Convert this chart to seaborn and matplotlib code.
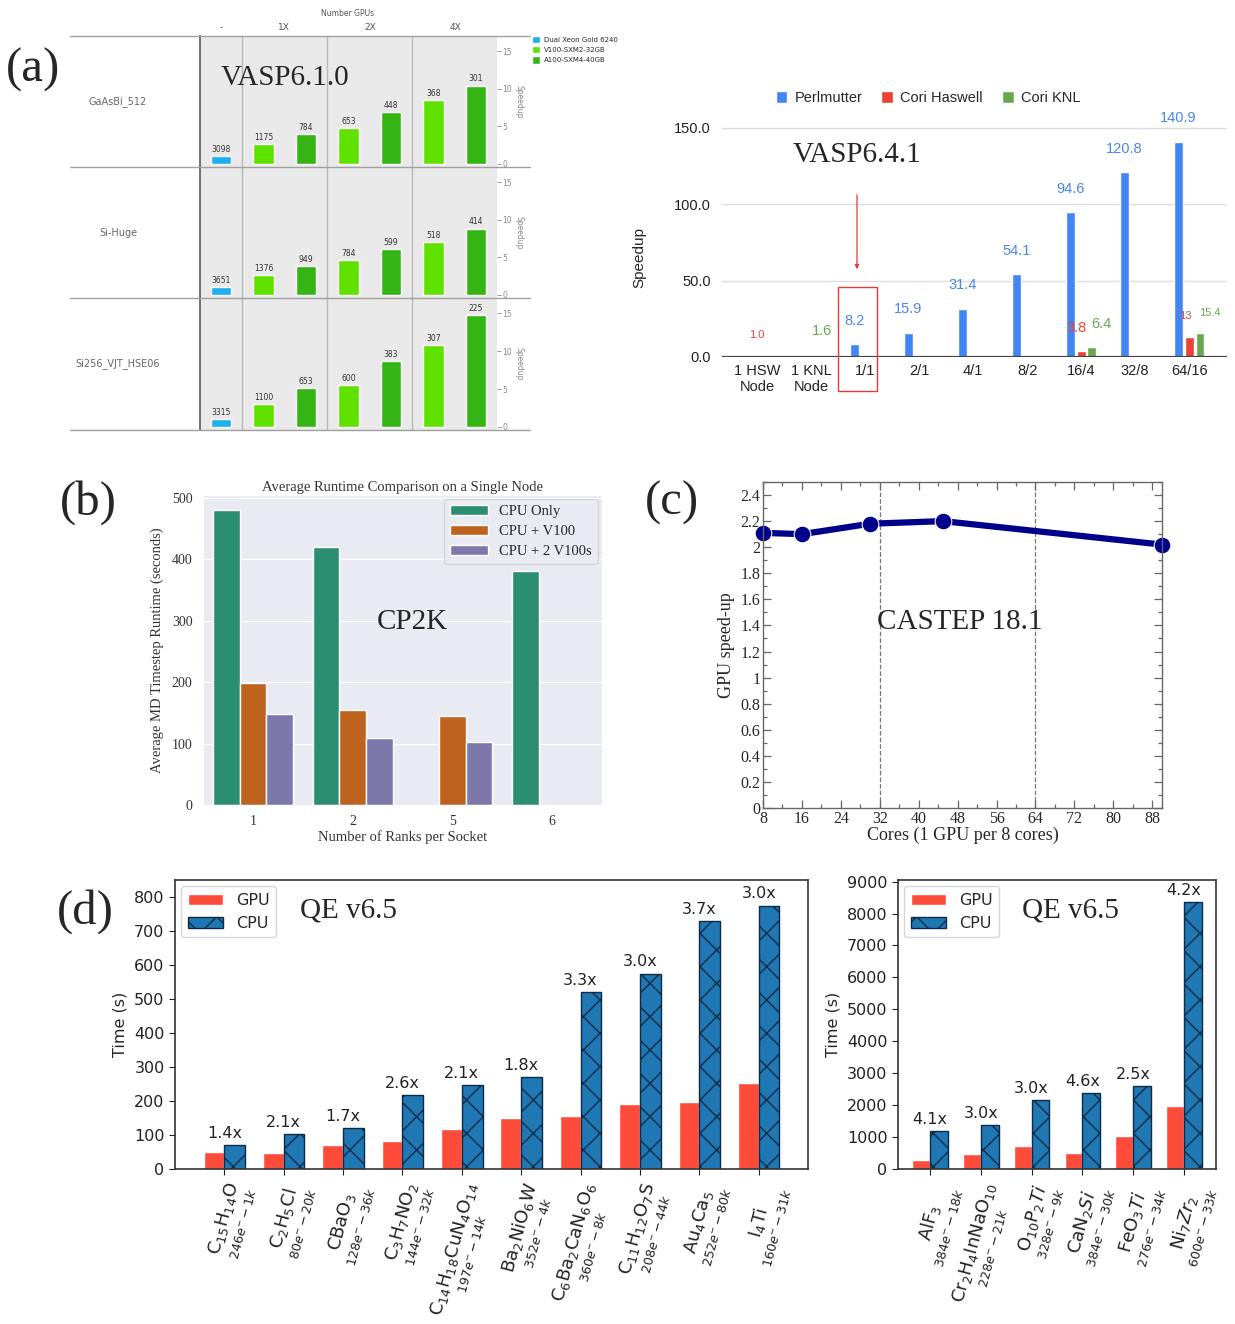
import numpy as np
import pandas as pd
import matplotlib
matplotlib.use("Agg")
import matplotlib.pyplot as plt
from matplotlib.lines import Line2D
from matplotlib.patches import Patch, Rectangle
from matplotlib.ticker import MultipleLocator, FuncFormatter
import seaborn as sns

nan = np.nan

# (a) left: VASP 6.1.0, time labels + speedup bars
vasp61_benchmarks = ["GaAsBi_512", "Si-Huge", "Si256_VJT_HSE06"]
vasp61_configs = ["CPU", "1X V100", "1X A100", "2X V100", "2X A100", "4X V100", "4X A100"]
vasp61_hardware = ["Dual Xeon Gold 6240", "V100-SXM2-32GB", "A100-SXM4-40GB",
                   "V100-SXM2-32GB", "A100-SXM4-40GB", "V100-SXM2-32GB", "A100-SXM4-40GB"]
vasp61_gpu_cols = ["-", "1X", "2X", "4X"]
gaasbi_time = [3098, 1175, 784, 653, 448, 368, 301]
gaasbi_speedup = [1.0, 2.65, 4.0, 4.75, 6.9, 8.45, 10.4]
sihuge_time = [3651, 1376, 949, 784, 599, 518, 414]
sihuge_speedup = [1.0, 2.65, 3.85, 4.65, 6.1, 7.05, 8.8]
si256_time = [3315, 1100, 653, 600, 383, 307, 225]
si256_speedup = [1.0, 3.0, 5.1, 5.5, 8.65, 10.8, 14.7]

# (a) right: VASP 6.4.1
vasp64_nodes = ["1 HSW\nNode", "1 KNL\nNode", "1/1", "2/1", "4/1", "8/2", "16/4", "32/8", "64/16"]
vasp64_systems = ["Perlmutter", "Cori Haswell", "Cori KNL"]
perlmutter = [nan, nan, 8.2, 15.9, 31.4, 54.1, 94.6, 120.8, 140.9]
cori_haswell = [1.0, nan, nan, nan, nan, nan, 3.8, nan, 13]
cori_knl = [nan, 1.6, nan, nan, nan, nan, 6.4, nan, 15.4]
perlmutter_labels = ["", "", "8.2", "15.9", "31.4", "54.1", "94.6", "120.8", "140.9"]
haswell_labels = ["1.0", "", "", "", "", "", "3.8", "", "13"]
knl_labels = ["", "1.6", "", "", "", "", "6.4", "", "15.4"]

# (b) CP2K
ranks = ["1", "2", "5", "6"]
cp2k_configs = ["CPU Only", "CPU + V100", "CPU + 2 V100s"]
cpu_only = [481, 421, nan, 381]
cpu_v100 = [198, 154, 145, nan]
cpu_2v100 = [148, 109, 102, nan]

# (c) CASTEP
cores = [8, 16, 30, 45, 90]
castep_speedup = [2.11, 2.10, 2.18, 2.20, 2.02]

# (d) QE v6.5
qe_small_formula = [r"$\mathrm{C_{15}H_{14}O}$", r"$\mathrm{C_2H_5Cl}$", r"$\mathrm{CBaO_3}$",
                    r"$\mathrm{C_3H_7NO_2}$", r"$\mathrm{C_{14}H_{18}CuN_4O_{14}}$",
                    r"$\mathrm{Ba_2NiO_6W}$", r"$\mathrm{C_6Ba_2CaN_6O_6}$",
                    r"$\mathrm{C_{11}H_{12}O_7S}$", r"$\mathrm{Au_4Ca_5}$", r"$\mathrm{I_4Ti}$"]
qe_small_info = ["246e^{-}-1k", "80e^{-}-20k", "128e^{-}-36k", "144e^{-}-32k", "197e^{-}-14k",
                 "352e^{-}-4k", "360e^{-}-8k", "208e^{-}-44k", "252e^{-}-80k", "160e^{-}-31k"]
qe_small_gpu = [51, 48, 70, 82, 117, 149, 157, 191, 198, 254]
qe_small_cpu = [70, 103, 121, 217, 246, 271, 520, 575, 729, 775]
qe_small_ratio = ["1.4x", "2.1x", "1.7x", "2.6x", "2.1x", "1.8x", "3.3x", "3.0x", "3.7x", "3.0x"]

qe_large_formula = [r"$\mathrm{AlF_3}$", r"$\mathrm{Cr_2H_4InNaO_{10}}$", r"$\mathrm{O_{10}P_2}Ti$",
                    r"$\mathrm{CaN_2}Si$", r"$\mathrm{FeO_3}Ti$", r"$\mathrm{Ni_7}Zr_2$"]
qe_large_info = ["384e^{-}-18k", "228e^{-}-21k", "328e^{-}-9k", "384e^{-}-30k",
                 "276e^{-}-34k", "600e^{-}-33k"]
qe_large_gpu = [290, 465, 715, 515, 1035, 1975]
qe_large_cpu = [1175, 1380, 2150, 2380, 2600, 8350]
qe_large_ratio = ["4.1x", "3.0x", "3.0x", "4.6x", "2.5x", "4.2x"]

sns.set_style("ticks")
plt.rcParams["font.family"] = ["DejaVu Sans"]
SERIF = "Liberation Serif"
ARIAL = "Liberation Sans"

W, H = 1235, 1324
fig = plt.figure(figsize=(W / 100, H / 100), dpi=100)


def box(x0, y0, x1, y1):
    return [x0 / W, 1 - y1 / H, (x1 - x0) / W, (y1 - y0) / H]


def ftext(x, y, s, **kw):
    kw.setdefault("ha", "center")
    kw.setdefault("va", "center")
    fig.text(x / W, 1 - y / H, s, **kw)


# ---------------- (a) left ----------------
a_palette = {"Dual Xeon Gold 6240": "#1cb0f0", "V100-SXM2-32GB": "#5fe200",
             "A100-SXM4-40GB": "#34b514"}
rows = [(gaasbi_time, gaasbi_speedup), (sihuge_time, sihuge_speedup), (si256_time, si256_speedup)]
row_y = [36, 167, 298, 430]
for r, (times, speedup) in enumerate(rows):
    ax = fig.add_axes(box(200, row_y[r], 497, row_y[r + 1]))
    df = pd.DataFrame({"config": vasp61_configs, "hardware": vasp61_hardware, "speedup": speedup})
    sns.barplot(data=df, x="config", y="speedup", hue="hardware", dodge=False,
                palette=a_palette, width=0.48, saturation=1, legend=False, ax=ax)
    ax.set_facecolor("#e9e9e9")
    ax.set_xlim(-0.5, 6.5)
    ax.set_ylim(-0.4, 17)
    for xv in [0.5, 2.5, 4.5]:
        ax.axvline(xv, color="#b8b8b8", lw=1)
    ax.set_xticks([])
    ax.set_xlabel("")
    ax.yaxis.tick_right()
    ax.yaxis.set_label_position("right")
    ax.set_yticks([0, 5, 10, 15])
    ax.tick_params(axis="y", labelsize=5.5, colors="#888", length=3, width=0.6, pad=1)
    ax.set_ylabel("Speedup", fontsize=5.5, color="#888", rotation=270, labelpad=8)
    for s in ["top", "bottom", "right"]:
        ax.spines[s].set_visible(False)
    ax.spines["left"].set_color("#666")
    ax.spines["left"].set_linewidth(1.3)
    for i, (t, s) in enumerate(zip(times, speedup)):
        ax.text(i, s + 0.3, str(t), ha="center", va="bottom", fontsize=5.5, color="#333")
    ftext(118, (row_y[r] + row_y[r + 1]) / 2, vasp61_benchmarks[r], fontsize=7, color="#666")

for y in row_y:
    fig.add_artist(Line2D([70 / W, 530 / W], [1 - y / H] * 2, color="#a0a0a0", lw=1))
ftext(348, 14, "Number GPUs", fontsize=5.5, color="#555")
for xc, lab in zip([221, 284, 370, 455], vasp61_gpu_cols):
    ftext(xc, 28, lab, fontsize=6.5, color="#555")
fig.legend(handles=[Patch(facecolor=c, label=k) for k, c in a_palette.items()],
           loc="upper left", bbox_to_anchor=(532 / W, 1 - 36 / H), frameon=False,
           fontsize=5, handlelength=1.2, handleheight=1.2, labelspacing=0.45,
           handletextpad=0.5, borderaxespad=0, borderpad=0)
ftext(285, 78, "VASP6.1.0", fontsize=21, family=SERIF)
ftext(33, 70, "(a)", fontsize=35, family=SERIF)

# ---------------- (a) right ----------------
ax = fig.add_axes(box(722, 120, 1227, 357))
sys_colors = {"Perlmutter": "#4285f4", "Cori Haswell": "#ea4335", "Cori KNL": "#6aa84f"}
dfa = pd.DataFrame({
    "node": vasp64_nodes * 3,
    "system": [s for s in vasp64_systems for _ in vasp64_nodes],
    "speedup": perlmutter + cori_haswell + cori_knl,
}).dropna()
sns.barplot(data=dfa, x="node", y="speedup", hue="system", order=vasp64_nodes,
            hue_order=vasp64_systems, palette=sys_colors, width=0.6, gap=0.17,
            saturation=1, ax=ax)
ax.set_xlim(-0.65, 8.7)
ax.set_ylim(0, 155)
ax.set_yticks([0, 50, 100, 150])
ax.set_yticklabels(["0.0", "50.0", "100.0", "150.0"])
ax.yaxis.grid(True, color="#dddddd", lw=1)
ax.set_axisbelow(True)
sns.despine(ax=ax, left=True, bottom=True)
ax.axhline(0, color="#444", lw=1.6)
ax.tick_params(length=0, labelsize=10.5, labelfontfamily=ARIAL, colors="#222")
ax.tick_params(axis="y", pad=8)
ax.tick_params(axis="x", pad=5)
ax.set_xlabel("")
ax.set_ylabel("Speedup", fontsize=11, family=ARIAL)
ax.yaxis.set_label_coords(-0.15, 0.418)
ax.legend(loc="center", bbox_to_anchor=(928 / W, 1 - 98 / H), bbox_transform=fig.transFigure,
          ncol=3, frameon=False, prop={"family": ARIAL, "size": 10.5}, handlelength=0.8,
          handleheight=0.8, columnspacing=1.3, handletextpad=0.5)
label_text_colors = ["#4a86e8", "#ea4335", "#6aa84f"]
label_dx = [0, -3, 7]
for k, (vals, labs) in enumerate([(perlmutter, perlmutter_labels), (cori_haswell, haswell_labels),
                                  (cori_knl, knl_labels)]):
    for i, (v, lab) in enumerate(zip(vals, labs)):
        if not lab:
            continue
        small = lab in ("1.0", "13", "15.4")
        dx = 0 if i < 2 else label_dx[k]
        ax.annotate(lab, (i + (k - 1) * 0.2, v), xytext=(dx, 17 if not small else 15),
                    textcoords="offset points", ha="center", va="center",
                    color=label_text_colors[k], fontsize=8 if small else 10.5, family=ARIAL)
ftext(857, 155, "VASP6.4.1", fontsize=21, family=SERIF)
ax.annotate("", xy=(857 / W, 1 - 272 / H), xytext=(857 / W, 1 - 192 / H),
            xycoords="figure fraction", textcoords="figure fraction",
            arrowprops=dict(arrowstyle="-|>", color="#e53935", lw=0.9, mutation_scale=6))
fig.add_artist(Rectangle((838 / W, 1 - 391 / H), 39 / W, 104 / H, transform=fig.transFigure,
                         fill=False, edgecolor="#e53935", lw=1))

# ---------------- (b) CP2K ----------------
with sns.axes_style("darkgrid"):
    axb = fig.add_axes(box(203, 495, 602, 805))
dfb = pd.DataFrame({
    "ranks": ranks * 3,
    "config": [c for c in cp2k_configs for _ in ranks],
    "runtime": cpu_only + cpu_v100 + cpu_2v100,
}).dropna()
sns.barplot(data=dfb, x="ranks", y="runtime", hue="config", order=ranks,
            hue_order=cp2k_configs, palette="Dark2", ax=axb)
axb.set_xlim(-0.5, 3.5)
axb.set_ylim(0, 505)
axb.set_yticks([0, 100, 200, 300, 400, 500])
axb.tick_params(labelsize=10, labelfontfamily=SERIF, colors="#333", pad=4)
axb.set_title("Average Runtime Comparison on a Single Node", fontsize=10.5, family=SERIF,
              color="#333", pad=3)
axb.set_xlabel("Number of Ranks per Socket", fontsize=10.5, family=SERIF, color="#333", labelpad=1)
axb.set_ylabel("Average MD Timestep Runtime (seconds)", fontsize=10.5, family=SERIF,
               color="#333", labelpad=6)
axb.legend(loc="upper right", prop={"family": SERIF, "size": 10.5}, frameon=True,
           facecolor="#eaeaf2", edgecolor="#d0d0d0", handlelength=2.6, labelspacing=0.45,
           borderaxespad=0.3)
ftext(412, 622, "CP2K", fontsize=21, family=SERIF)
ftext(88, 503, "(b)", fontsize=35, family=SERIF)

# ---------------- (c) CASTEP ----------------
axc = fig.add_axes(box(763, 482, 1162, 808))
sns.lineplot(x=cores, y=castep_speedup, marker="o", color="#00008b", lw=4.5, markersize=12, ax=axc)
for ln in axc.lines:
    ln.set_clip_on(False)
axc.axvline(32, color="#777", lw=0.9, ls="--", zorder=0)
axc.axvline(64, color="#777", lw=0.9, ls="--", zorder=0)
axc.set_xlim(8, 90)
axc.set_ylim(0, 2.5)
axc.set_xticks(range(8, 89, 8))
axc.xaxis.set_minor_locator(MultipleLocator(4))
axc.set_yticks(np.arange(0, 2.41, 0.2))
axc.yaxis.set_minor_locator(MultipleLocator(0.1))
axc.yaxis.set_major_formatter(FuncFormatter(lambda v, _: f"{v:g}"))
axc.tick_params(which="both", direction="in", top=True, right=True, color="#666")
axc.tick_params(which="major", length=6, width=0.9)
axc.tick_params(which="minor", length=3, width=0.9)
axc.tick_params(labelsize=11.5, labelfontfamily=SERIF, pad=2)
for s in axc.spines.values():
    s.set_color("#666")
    s.set_linewidth(1)
axc.set_xlabel("Cores (1 GPU per 8 cores)", fontsize=13, family=SERIF, labelpad=0)
axc.set_ylabel("GPU speed-up", fontsize=13, family=SERIF, labelpad=4)
ftext(960, 622, "CASTEP 18.1", fontsize=21, family=SERIF)
ftext(672, 503, "(c)", fontsize=35, family=SERIF)

# ---------------- (d) QE ----------------
gpu_red = "#ff4b3a"
cpu_blue = "#1f77b4"
hatch_edge = "#0c2b45"
qe_panels = [
    (box(175, 880, 808, 1169), qe_small_formula, qe_small_info, qe_small_gpu, qe_small_cpu,
     qe_small_ratio, (-0.83, 9.83), (0, 850), range(0, 801, 100), (348, 910)),
    (box(898, 880, 1216, 1169), qe_large_formula, qe_large_info, qe_large_gpu, qe_large_cpu,
     qe_large_ratio, (-0.63, 5.63), (0, 9050), range(0, 9001, 1000), (1070, 910)),
]
for rect, formula, info, gpu, cpu, ratio, xlim, ylim, yt, qe_pos in qe_panels:
    ax = fig.add_axes(rect)
    n = len(formula)
    dfd = pd.DataFrame({"system": list(range(n)) * 2,
                        "device": ["GPU"] * n + ["CPU"] * n,
                        "time": gpu + cpu})
    sns.barplot(data=dfd, x="system", y="time", hue="device", hue_order=["GPU", "CPU"],
                palette={"GPU": gpu_red, "CPU": cpu_blue}, width=0.7, saturation=1,
                legend=False, ax=ax)
    for bar in ax.containers[1]:
        bar.set_hatch("x")
        bar.set_edgecolor(hatch_edge)
        bar.set_linewidth(1)
    for i, (g, c, lab) in enumerate(zip(gpu, cpu, ratio)):
        ax.annotate(lab, (i, max(g, c)), xytext=(0, 3), textcoords="offset points",
                    ha="center", va="bottom", fontsize=11.5, color="#222")
    ax.set_xlim(*xlim)
    ax.set_ylim(*ylim)
    ax.set_yticks(list(yt))
    ax.set_xticks(range(n))
    ax.set_xticklabels([f"{f}\n$_{{{s}}}$" for f, s in zip(formula, info)], rotation=75,
                       ha="right", va="top", rotation_mode="anchor",
                       multialignment="center", linespacing=0.85, fontsize=13)
    ax.tick_params(axis="y", labelsize=11.5, length=4, colors="#222")
    ax.tick_params(axis="x", length=4, pad=4, colors="#222")
    for s in ax.spines.values():
        s.set_visible(True)
        s.set_color("#333")
        s.set_linewidth(1.2)
    ax.set_xlabel("")
    ax.set_ylabel("Time (s)", fontsize=11.5, labelpad=5)
    ax.legend(handles=[Patch(facecolor=gpu_red, label="GPU"),
                       Patch(facecolor=cpu_blue, edgecolor=hatch_edge, hatch="x", label="CPU")],
              loc="upper left", fontsize=11.5, handlelength=2.2, frameon=True,
              edgecolor="#cccccc", borderaxespad=0.4)
    ftext(qe_pos[0], qe_pos[1], "QE v6.5", fontsize=21, family=SERIF)
ftext(85, 912, "(d)", fontsize=35, family=SERIF)

fig.savefig("out.png", dpi=100, facecolor="white")
